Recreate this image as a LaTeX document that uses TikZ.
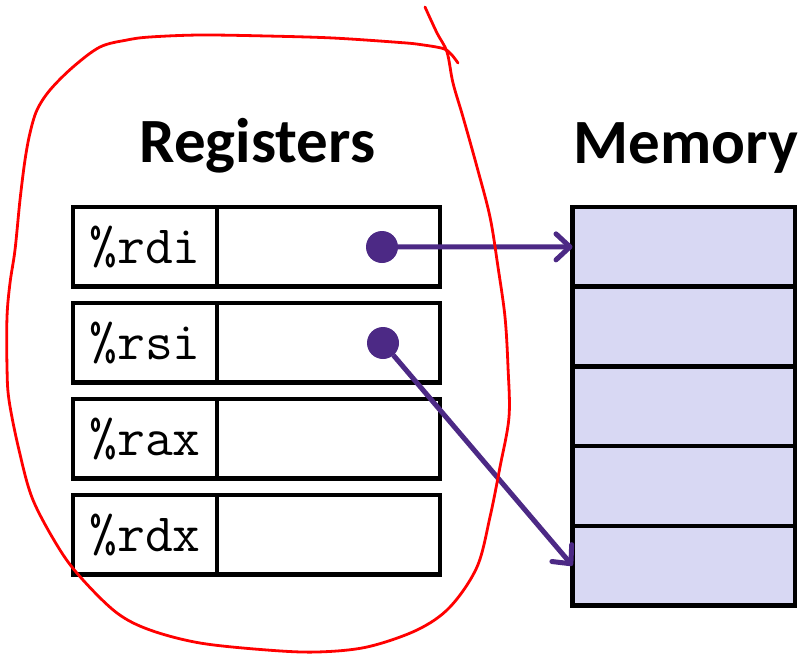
\documentclass[tikz,border=0pt]{standalone}
\usepackage{fontspec}
\setmainfont{Carlito}
\usetikzlibrary{arrows.meta}
\definecolor{memfill}{RGB}{216,216,243}
\definecolor{ptrpurple}{RGB}{76,41,133}
\begin{document}
\begin{tikzpicture}[x=1pt,y=-1pt,
  cellbox/.style={draw=black, line width=4.5pt, inner sep=0pt, outer sep=0pt, minimum height=79.5pt},
  namecell/.style={cellbox, minimum width=144pt, font=\fontsize{54}{54}\selectfont\ttfamily},
  valcell/.style={cellbox, minimum width=223pt},
  memcell/.style={cellbox, fill=memfill, minimum width=222.5pt, minimum height=79.7pt},
  title/.style={font=\fontsize{63}{63}\selectfont\bfseries, anchor=base, inner sep=0pt},
  ptrdot/.style={circle, fill=ptrpurple, minimum size=32pt, inner sep=0pt, outer sep=0pt},
  ptr/.style={draw=ptrpurple, line width=5pt, -{Straight Barb[length=14pt,width=26pt,line cap=round,line join=round]}},
  loop/.style={draw=red, line width=2.8pt, line cap=round, line join=round},
]
\useasboundingbox (0,0) rectangle (804,654);

% titles
\node[title] (regtitle) at (257.5,162) {Registers};
\node[title] (memtitle) at (686,163) {Memory};

% register file: name cell + value cell per row
\foreach \r/\y in {rdi/246.75, rsi/342.75, rax/438.75, rdx/534.75} {
  \node[valcell] (v\r) at (328.5,\y) {};
  \node[namecell] (n\r) at (145,\y) {\%\r};
}

% memory column
\foreach \i/\y in {1/246.85, 2/326.55, 3/406.25, 4/485.95, 5/565.65} {
  \node[memcell] (m\i) at (683.75,\y) {};
}

% pointer values
\node[ptrdot] (prdi) at (382,247) {};
\node[ptrdot] (prsi) at (383,343) {};
\draw[ptr] (prdi) -- (m1.west);
\draw[ptr] (prsi) -- (m5.west);

% hand-drawn loop around the registers
\draw[loop] plot[smooth, tension=0.55] coordinates {
  (458,63) (451,54) (443,48.5) (420,44.5) (400,42.5) (333,38) (267,36)
  (200,35) (150,37) (127,40) (100,47) (73,67) (50,90) (37,110) (30,133)
  (25,160) (20,200) (15,250) (10,283) (7,317) (7,367) (9,400) (19,450)
  (33,500) (60,550) (83,580) (117,613) (150,630) (200,643) (267,650)
  (317,652) (367,647) (417,630) (450,607) (477,567) (490,517) (500,467)
  (509,417) (508,367) (505,317) (498,267) (490,217) (477,167) (463,117)
  (453,83) (447,52) (437,33) (425,7)
};
\end{tikzpicture}
\end{document}
